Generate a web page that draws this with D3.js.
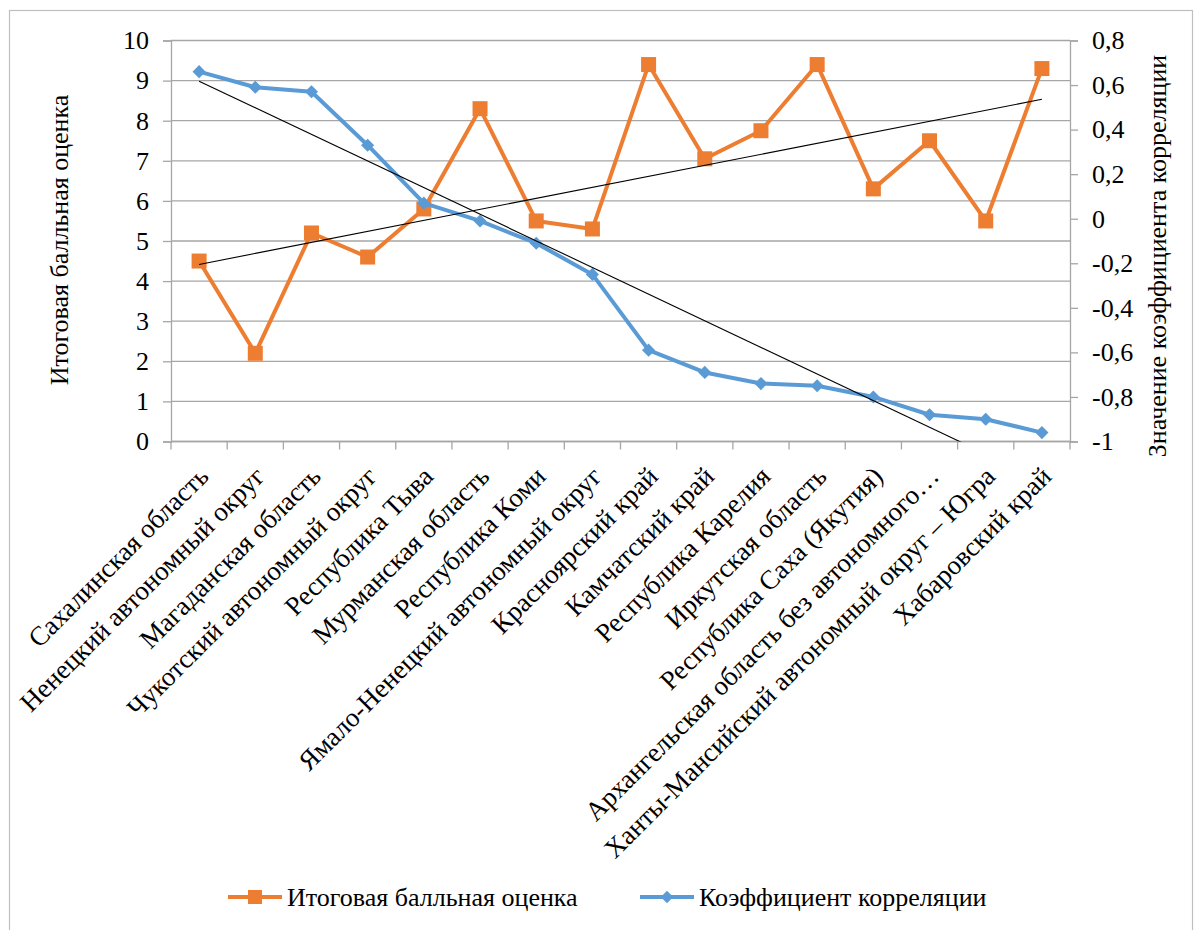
<!DOCTYPE html>
<html>
<head>
<meta charset="utf-8">
<script src="https://cdn.jsdelivr.net/npm/d3@7"></script>
<style>
  body { margin: 0; background: #fff; }
  svg text { font-family: "Liberation Serif", "Times New Roman", serif; fill: #000; }
</style>
</head>
<body>
<svg id="chart" width="1195" height="930"></svg>
<script>
// Regions (category axis)
const regions = [
  "Сахалинская область",
  "Ненецкий автономный округ",
  "Магаданская область",
  "Чукотский автономный округ",
  "Республика Тыва",
  "Мурманская область",
  "Республика Коми",
  "Ямало-Ненецкий автономный округ",
  "Красноярский край",
  "Камчатский край",
  "Республика Карелия",
  "Иркутская область",
  "Республика Саха (Якутия)",
  "Архангельская область без автономного…",
  "Ханты-Мансийский автономный округ – Югра",
  "Хабаровский край"
];

// Final score (left axis)
const scores = [4.5, 2.2, 5.2, 4.6, 5.8, 8.3, 5.5, 5.3, 9.4, 7.05, 7.75, 9.4, 6.3, 7.5, 5.5, 9.3];

// Correlation coefficient (right axis)
const correlations = [0.66, 0.59, 0.57, 0.33, 0.07, -0.01, -0.11, -0.25, -0.59, -0.69, -0.74, -0.75, -0.80, -0.88, -0.90, -0.96];

const leftTicks = [0, 1, 2, 3, 4, 5, 6, 7, 8, 9, 10];
const rightTicks = [-1, -0.8, -0.6, -0.4, -0.2, 0, 0.2, 0.4, 0.6, 0.8];

const seriesNames = ["Итоговая балльная оценка", "Коэффициент корреляции"];
const leftTitle = "Итоговая балльная оценка";
const rightTitle = "Значение коэффициента корреляции";

const ORANGE = "#ED7D31";
const BLUE = "#5B9BD5";
const GRID = "#a6a6a6";
const FONT = '"Liberation Serif", "Times New Roman", serif';
const FS = 26;
const FS_CAT = 27;

const svg = d3.select("#chart");
const plot = { left: 171, right: 1070, top: 40.5, bottom: 441.5 };

const ru = d3.formatLocale({ decimal: ",", thousands: " ", grouping: [3], currency: ["", " ₽"], minus: "-" });
const fmtR = ru.format("~g");

const x = d3.scaleBand().domain(regions).range([plot.left, plot.right]).padding(0);
const cx = d => x(d) + x.bandwidth() / 2;
const yL = d3.scaleLinear().domain([0, 10]).range([plot.bottom, plot.top]);
const yR = d3.scaleLinear().domain([-1, 0.8]).range([plot.bottom, plot.top]);

// Outer frame
svg.append("rect")
  .attr("x", 9.5).attr("y", 10.5).attr("width", 1183).attr("height", 940)
  .attr("fill", "none").attr("stroke", "#bfbfbf").attr("stroke-width", 1.2);

// Horizontal gridlines
svg.append("g").selectAll("line").data(leftTicks).join("line")
  .attr("x1", plot.left).attr("x2", plot.right)
  .attr("y1", d => yL(d)).attr("y2", d => yL(d))
  .attr("stroke", GRID).attr("stroke-width", 1.3);

// Left axis
const leftAxis = d3.axisLeft(yL).tickValues(leftTicks).tickSize(8).tickPadding(14).tickFormat(d3.format("d"));
const gL = svg.append("g").attr("transform", `translate(${plot.left},0)`).call(leftAxis)
  .attr("font-family", null).attr("font-size", null);
gL.select(".domain").attr("stroke", GRID).attr("stroke-width", 1.3);
gL.selectAll(".tick line").attr("stroke", GRID).attr("stroke-width", 1.3);
gL.selectAll(".tick text").style("font-size", FS + "px").style("font-family", FONT).attr("fill", "#000");

// Right axis
const rightAxis = d3.axisRight(yR).tickValues(rightTicks).tickSize(8).tickPadding(14).tickFormat(fmtR);
const gR = svg.append("g").attr("transform", `translate(${plot.right},0)`).call(rightAxis)
  .attr("font-family", null).attr("font-size", null);
gR.select(".domain").attr("stroke", GRID).attr("stroke-width", 1.3);
gR.selectAll(".tick line").attr("stroke", GRID).attr("stroke-width", 1.3);
gR.selectAll(".tick text").style("font-size", FS + "px").style("font-family", FONT).attr("fill", "#000");

// Bottom axis: ticks on category boundaries
const gB = svg.append("g");
gB.append("line")
  .attr("x1", plot.left).attr("x2", plot.right)
  .attr("y1", plot.bottom).attr("y2", plot.bottom)
  .attr("stroke", GRID).attr("stroke-width", 1.3);
const boundaries = regions.map(d => x(d)).concat([plot.right]);
gB.selectAll("line.tb").data(boundaries).join("line").attr("class", "tb")
  .attr("x1", d => d).attr("x2", d => d)
  .attr("y1", plot.bottom).attr("y2", plot.bottom + 8)
  .attr("stroke", GRID).attr("stroke-width", 1.3);

// Category labels, rotated
gB.selectAll("text").data(regions).join("text")
  .attr("transform", d => `translate(${cx(d) + 11},${478}) rotate(-45)`)
  .attr("text-anchor", "end")
  .style("font-size", FS_CAT + "px").style("font-family", FONT)
  .text(d => d);

// Axis titles
svg.append("text")
  .attr("transform", `translate(68,240) rotate(-90)`)
  .attr("text-anchor", "middle")
  .style("font-size", FS + "px").style("font-family", FONT)
  .text(leftTitle);
svg.append("text")
  .attr("transform", `translate(1166,256) rotate(-90)`)
  .attr("text-anchor", "middle")
  .style("font-size", FS + "px").style("font-family", FONT)
  .text(rightTitle);

// Linear trend (least squares) over category index
function trend(values) {
  const n = values.length;
  const xs = d3.range(1, n + 1);
  const mx = d3.mean(xs), my = d3.mean(values);
  const sxy = d3.sum(xs, (v, i) => (v - mx) * (values[i] - my));
  const sxx = d3.sum(xs, v => (v - mx) ** 2);
  const b = sxy / sxx, a = my - b * mx;
  return [a + b * 1, a + b * n];
}

svg.append("clipPath").attr("id", "plotClip")
  .append("rect")
  .attr("x", plot.left).attr("y", plot.top)
  .attr("width", plot.right - plot.left).attr("height", plot.bottom - plot.top);

const first = regions[0], last = regions[regions.length - 1];

// Series: final score
const lineL = d3.line().x((d, i) => cx(regions[i])).y(d => yL(d));
svg.append("path").datum(scores)
  .attr("d", lineL).attr("fill", "none")
  .attr("stroke", ORANGE).attr("stroke-width", 4).attr("stroke-linejoin", "round");
svg.append("g").selectAll("rect").data(scores).join("rect")
  .attr("x", (d, i) => cx(regions[i]) - 7.5).attr("y", d => yL(d) - 7.5)
  .attr("width", 15).attr("height", 15).attr("fill", ORANGE);

// Series: correlation coefficient
const lineR = d3.line().x((d, i) => cx(regions[i])).y(d => yR(d));
svg.append("path").datum(correlations)
  .attr("d", lineR).attr("fill", "none")
  .attr("stroke", BLUE).attr("stroke-width", 4).attr("stroke-linejoin", "round");
const diamond = d3.symbol().type(d3.symbolDiamond2).size(110);
svg.append("g").selectAll("path").data(correlations).join("path")
  .attr("d", diamond)
  .attr("transform", (d, i) => `translate(${cx(regions[i])},${yR(d)})`)
  .attr("fill", BLUE);

// Trend lines
const tL = trend(scores), tR = trend(correlations);
const gT = svg.append("g").attr("clip-path", "url(#plotClip)");
gT.append("line")
  .attr("x1", cx(first)).attr("y1", yL(tL[0]))
  .attr("x2", cx(last)).attr("y2", yL(tL[1]))
  .attr("stroke", "#000").attr("stroke-width", 1.1);
gT.append("line")
  .attr("x1", cx(first)).attr("y1", yR(tR[0]))
  .attr("x2", cx(last)).attr("y2", yR(tR[1]))
  .attr("stroke", "#000").attr("stroke-width", 1.1);

// Legend
const legend = svg.append("g");
const legendItems = [
  { name: seriesNames[0], color: ORANGE, x: 228, shape: "square" },
  { name: seriesNames[1], color: BLUE, x: 640, shape: "diamond" }
];
const ly = 897;
legendItems.forEach(it => {
  legend.append("line")
    .attr("x1", it.x).attr("x2", it.x + 54).attr("y1", ly).attr("y2", ly)
    .attr("stroke", it.color).attr("stroke-width", 4);
  if (it.shape === "square") {
    legend.append("rect").attr("x", it.x + 27 - 7).attr("y", ly - 7)
      .attr("width", 14).attr("height", 14).attr("fill", it.color);
  } else {
    legend.append("path").attr("d", d3.symbol().type(d3.symbolDiamond2).size(100))
      .attr("transform", `translate(${it.x + 27},${ly})`).attr("fill", it.color);
  }
  legend.append("text")
    .attr("x", it.x + 59).attr("y", ly).attr("dy", "0.35em")
    .style("font-size", FS + "px").style("font-family", FONT)
    .text(it.name);
});
</script>
</body>
</html>
